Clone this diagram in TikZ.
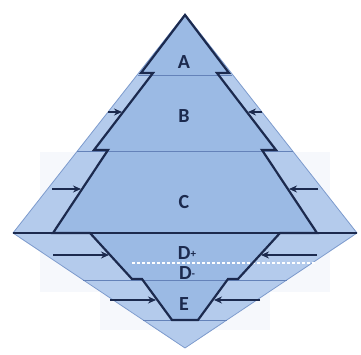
\documentclass[tikz,border=0pt]{standalone}
\usepackage{fontspec}
\setsansfont{Carlito}
\usepackage{xcolor}
\usetikzlibrary{arrows.meta}

\definecolor{navy}{RGB}{28,42,78}
\definecolor{diamfill}{RGB}{180,203,236}
\definecolor{treefill}{RGB}{155,186,228}
\definecolor{edgecol}{RGB}{125,155,205}
\definecolor{bandcol}{RGB}{100,130,185}
\definecolor{faintcol}{RGB}{246,248,252}

\begin{document}
\begin{tikzpicture}[x=1pt, y=-1pt,
    lbl/.style={font=\fontsize{20}{20}\selectfont\sffamily\bfseries, text=navy, inner sep=0pt},
    sml/.style={font=\fontsize{11}{11}\selectfont\sffamily\bfseries},
    outl/.style={draw=navy, line width=2.2pt, line join=miter},
    band/.style={draw=bandcol, line width=0.9pt},
    arr/.style={-{Stealth[length=8pt,width=7pt]}, draw=navy, line width=2pt},
    faint/.style={fill=faintcol, draw=none}
  ]
  \useasboundingbox (0,0) rectangle (361,354);

  % faint band boxes behind the diamond
  \fill[faint] (40,152) rectangle (330,233);
  \fill[faint] (40,233) rectangle (330,292);
  \fill[faint] (100,292) rectangle (270,330);

  % outer diamond
  \coordinate (top) at (185,14);
  \coordinate (lft) at (13,233);
  \coordinate (rgt) at (357,233);
  \coordinate (bot) at (185,348);
  \filldraw[fill=diamfill, draw=edgecol, line width=0.8pt] (top) -- (lft) -- (bot) -- (rgt) -- cycle;

  % tree body
  \fill[treefill] (185,15) -- (141,73) -- (153,73) -- (94,150) -- (108,150) -- (53,233)
    -- (90,233) -- (132,279) -- (142,279) -- (172,320) -- (198,320) -- (228,279)
    -- (238,279) -- (280,233) -- (317,233) -- (262,150) -- (276,150) -- (217,73)
    -- (229,73) -- cycle;

  % band lines
  \draw[band] (138,75) -- (232,75);
  \draw[band] (77,151) -- (293,151);
  \draw[band] (83,280) -- (287,280);
  \draw[band] (143,320) -- (227,320);
  \draw[navy, line width=1.6pt] (lft) -- (rgt);
  \draw[white, line width=1.2pt, dash pattern=on 3pt off 2pt] (132,263) -- (315,263);

  % tree outline
  \draw[outl] (185,15) -- (141,73) -- (153,73) -- (94,150) -- (108,150) -- (53,233)
    -- (90,233) -- (132,279) -- (142,279) -- (172,320) -- (198,320) -- (228,279)
    -- (238,279) -- (280,233) -- (317,233) -- (262,150) -- (276,150) -- (217,73)
    -- (229,73) -- cycle;

  % arrows into the tiers
  \foreach \n/\y/\xo/\xi in {b/112/108/122, c/189/52/81, d/255/53/109, e/300/110/156} {
    \coordinate (\n l0) at (\xo,\y);
    \coordinate (\n l1) at (\xi,\y);
    \coordinate (\n r0) at (370-\xo,\y);
    \coordinate (\n r1) at (370-\xi,\y);
    \draw[arr] (\n l0) -- (\n l1);
    \draw[arr] (\n r0) -- (\n r1);
  }

  % labels
  \node[lbl] (lA) at (184,62)  {A};
  \node[lbl] (lB) at (184,116) {B};
  \node[lbl] (lC) at (184,202) {C};
  \node[lbl] (lDp) at (187,253) {D\raisebox{0.12em}{\fontsize{11}{11}\selectfont +}};
  \node[lbl] (lDm) at (187,273) {D\raisebox{0.12em}{\fontsize{11}{11}\selectfont -}};
  \node[lbl] (lE) at (184,304) {E};
\end{tikzpicture}
\end{document}
